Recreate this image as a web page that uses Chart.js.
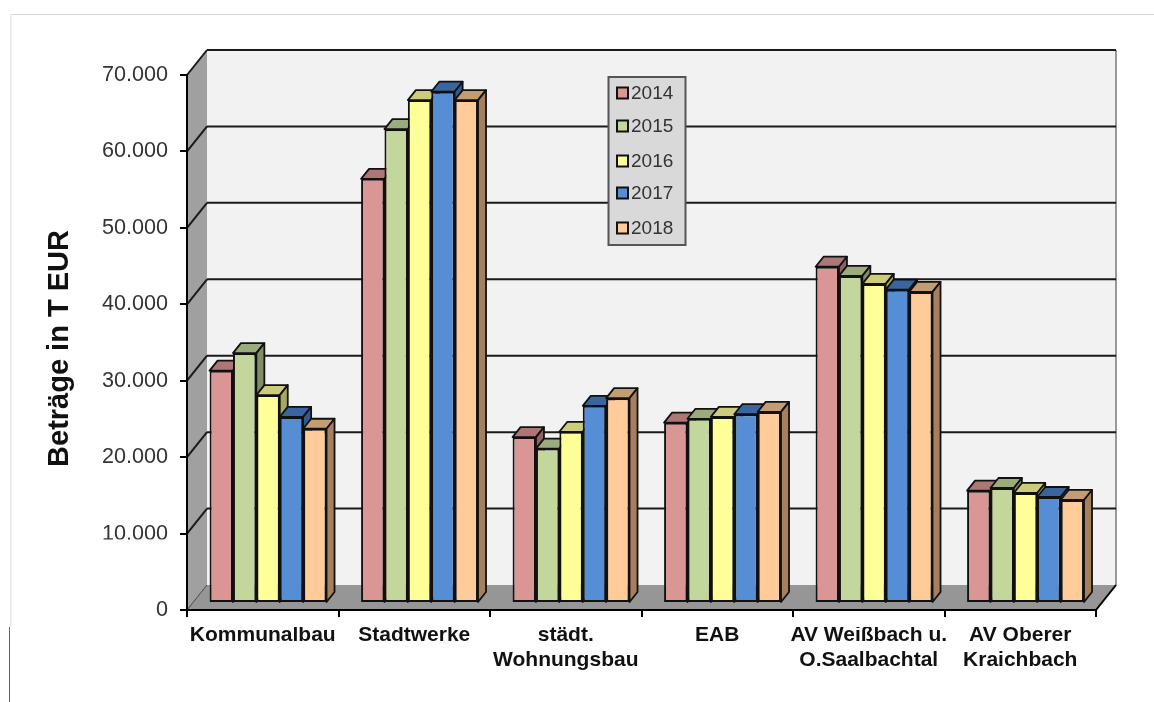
<!DOCTYPE html>
<html>
<head>
<meta charset="utf-8">
<title>Beträge in T EUR</title>
<script src="https://cdn.jsdelivr.net/npm/chart.js@4"></script>
<style>
  html, body { margin: 0; padding: 0; background: #fff; }
  /* the source is a slightly soft scan */
  canvas { display: block; filter: blur(0.5px); }
</style>
</head>
<body>
<canvas id="chart" width="1154" height="702"></canvas>
<script>
const categories = [
  'Kommunalbau',
  'Stadtwerke',
  ['städt.', 'Wohnungsbau'],
  'EAB',
  ['AV Weißbach u.', 'O.Saalbachtal'],
  ['AV Oberer', 'Kraichbach']
];
const years = ['2014', '2015', '2016', '2017', '2018'];
const values2014 = [30400, 55500, 21700, 23600, 44000, 14700];
const values2015 = [32700, 62000, 20200, 24100, 42800, 15050];
const values2016 = [27200, 65800, 22400, 24350, 41750, 14400];
const values2017 = [24350, 66900, 25800, 24700, 41000, 13870];
const values2018 = [22800, 65800, 26800, 25000, 40700, 13480];
const series = [values2014, values2015, values2016, values2017, values2018];

const frontColors = ['#d99694', '#c3d69b', '#ffff99', '#558ed5', '#ffcc99'];
const topColors = ['#ad7776', '#9cab7c', '#cccc7a', '#3a659f', '#c49c74'];
const sideColors = ['#8f6261', '#808d66', '#a8a865', '#335a8e', '#a67f5f'];

// depth of the plot box and of the single bars, in px
const wallDx = 20, wallDy = 25;
const barShiftX = 5.3, barShiftY = 7;
const barDx = 8, barDy = 10;

// legend rows are not evenly spaced in the original
const legendRowY = [93, 126, 161, 193, 228];

function poly(ctx, pts, fill, stroke, lw) {
  ctx.beginPath();
  pts.forEach((p, i) => i ? ctx.lineTo(p[0], p[1]) : ctx.moveTo(p[0], p[1]));
  ctx.closePath();
  if (fill) { ctx.fillStyle = fill; ctx.fill(); }
  if (stroke) { ctx.strokeStyle = stroke; ctx.lineWidth = lw || 2; ctx.stroke(); }
}

function line(ctx, x1, y1, x2, y2, color, lw) {
  ctx.beginPath();
  ctx.moveTo(x1, y1);
  ctx.lineTo(x2, y2);
  ctx.strokeStyle = color;
  ctx.lineWidth = lw;
  ctx.stroke();
}

const box3d = {
  id: 'box3d',
  afterLayout(chart) {
    // axis title sits a little below the middle of the axis
    const ys = chart.scales.y;
    const drawTitle = ys.drawTitle.bind(ys);
    ys.drawTitle = () => {
      chart.ctx.save();
      chart.ctx.translate(0, 6);
      drawTitle();
      chart.ctx.restore();
    };
  },
  beforeDraw(chart) {
    const ctx = chart.ctx;
    const xs = chart.scales.x, ys = chart.scales.y;
    const l = xs.left, r = xs.right, t = ys.top, b = ys.bottom;

    ctx.save();
    // page frame of the screenshot
    line(ctx, 10, 14.5, 1154, 14.5, '#d4d4d4', 1);
    line(ctx, 11, 14, 11, 627, '#ececec', 2);
    line(ctx, 9.5, 627, 9.5, 702, '#666', 1);

    // back wall, left wall, floor
    poly(ctx, [[l + wallDx, t - wallDy], [r + wallDx, t - wallDy], [r + wallDx, b - wallDy], [l + wallDx, b - wallDy]], '#f2f2f2');
    poly(ctx, [[l, t], [l + wallDx, t - wallDy], [l + wallDx, b - wallDy], [l, b]], '#a0a0a0');
    poly(ctx, [[l, b], [l + wallDx, b - wallDy], [r + wallDx, b - wallDy], [r, b]], '#969696');
    line(ctx, r + wallDx, t - wallDy, r + wallDx, b - wallDy, '#999', 2);

    // grid lines follow the y scale over both walls
    ys.ticks.forEach(tick => {
      const y = ys.getPixelForValue(tick.value);
      const color = tick.value === 0 ? '#444' : '#1a1a1a';
      line(ctx, l, y, l + wallDx, y - wallDy, color, tick.value === 0 ? 1 : 2);
      if (tick.value > 0) line(ctx, l + wallDx, y - wallDy, r + wallDx, y - wallDy, color, 2);
    });
    line(ctx, r, b, r + wallDx, b - wallDy, '#000', 2);

    // legend panel with its rows
    ctx.fillStyle = '#d9d9d9';
    ctx.fillRect(608.5, 77, 77, 168);
    ctx.strokeStyle = '#555';
    ctx.lineWidth = 2;
    ctx.strokeRect(608.5, 77, 77, 168);
    ctx.font = '19px "Liberation Sans"';
    ctx.textAlign = 'left';
    ctx.textBaseline = 'middle';
    years.forEach((year, i) => {
      const y = legendRowY[i];
      ctx.fillStyle = frontColors[i];
      ctx.fillRect(617, y - 5.5, 11, 11);
      ctx.strokeStyle = '#111';
      ctx.lineWidth = 2;
      ctx.strokeRect(617, y - 5.5, 11, 11);
      ctx.fillStyle = '#333';
      ctx.fillText(year, 631, y + 1);
    });
    ctx.restore();
  },
  // default drawing is held back so that the years stack left to right
  beforeDatasetDraw() {
    return false;
  },
  afterDatasetsDraw(chart) {
    const ctx = chart.ctx;
    series.forEach((vals, i) => {
      const meta = chart.getDatasetMeta(i);
      ctx.save();
      ctx.translate(barShiftX, -barShiftY);
      ctx.lineJoin = 'round';
      meta.data.forEach(bar => {
        const p = bar.getProps(['x', 'y', 'base', 'width'], true);
        const x0 = p.x - p.width / 2, x1 = p.x + p.width / 2;
        poly(ctx, [[x0, p.y], [x0 + barDx, p.y - barDy], [x1 + barDx, p.y - barDy], [x1, p.y]], topColors[i], '#111', 1.8);
        poly(ctx, [[x1, p.y], [x1 + barDx, p.y - barDy], [x1 + barDx, p.base - barDy], [x1, p.base]], sideColors[i], '#111', 1.8);
      });
      meta.controller.draw();
      ctx.restore();
    });
  },
  afterDraw(chart) {
    // the source image has parts of some labels cut off by white strips
    const ctx = chart.ctx;
    ctx.save();
    ctx.fillStyle = '#fff';
    ctx.fillRect(175, 618, 960, 9);
    ctx.fillRect(95, 539.5, 76, 6);
    ctx.restore();
  }
};

new Chart(document.getElementById('chart'), {
  type: 'bar',
  data: {
    labels: categories,
    datasets: years.map((year, i) => ({
      label: year,
      data: series[i],
      backgroundColor: frontColors[i],
      borderColor: '#111',
      borderWidth: 2,
      borderSkipped: false,
      categoryPercentage: 0.772,
      barPercentage: 1
    }))
  },
  options: {
    responsive: false,
    animation: false,
    layout: { padding: { left: 0, right: 58, top: 75, bottom: 0 } },
    plugins: {
      tooltip: { enabled: false },
      legend: { display: false }
    },
    scales: {
      x: {
        border: { color: '#000', width: 2 },
        grid: { drawOnChartArea: false, color: '#000', lineWidth: 2, tickLength: 7 },
        ticks: {
          color: '#111',
          padding: 6,
          maxRotation: 0,
          autoSkip: false,
          font: { family: 'Liberation Sans', size: 21, weight: 'bold', lineHeight: 1.19 }
        },
        afterFit(scale) { scale.height = 92; scale.paddingLeft = 0; scale.paddingRight = 0; }
      },
      y: {
        min: 0,
        max: 70000,
        border: { color: '#000', width: 2 },
        grid: { drawOnChartArea: false, color: '#000', lineWidth: 2, tickLength: 7 },
        ticks: {
          stepSize: 10000,
          color: '#333',
          padding: 12,
          font: { family: 'Liberation Sans', size: 21.6 },
          callback: v => v === 0 ? '0' : String(v / 1000) + '.000'
        },
        title: {
          display: true,
          text: 'Beträge in T EUR',
          color: '#111',
          padding: { top: 43, bottom: 0 },
          font: { family: 'Liberation Sans', size: 29, weight: 'bold' }
        },
        afterFit(scale) { scale.width = 187; scale.paddingTop = 0; scale.paddingBottom = 0; }
      }
    }
  },
  plugins: [box3d]
});
</script>
</body>
</html>
